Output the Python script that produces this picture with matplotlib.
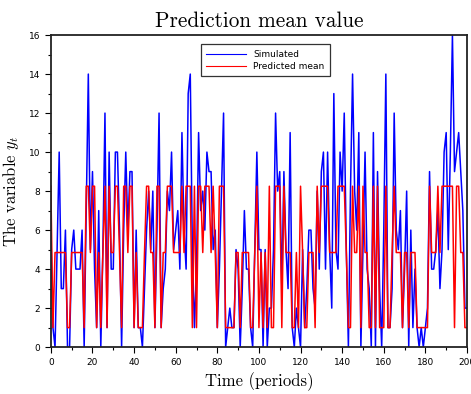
import matplotlib
matplotlib.use("Agg")
import matplotlib.pyplot as plt
from matplotlib.ticker import MultipleLocator

periods = list(range(0, 201))

simulated = [
    6, 1, 0, 5, 10, 3, 3, 6, 0, 0,
    5, 6, 4, 4, 4, 6, 0, 7, 14, 5,
    9, 4, 1, 7, 0, 5, 12, 1, 10, 4,
    4, 10, 10, 6, 0, 6, 10, 6, 9, 9,
    1, 6, 1, 1, 0, 3, 6, 8, 5, 8,
    1, 6, 12, 1, 3, 4, 8, 7, 10, 5,
    6, 7, 4, 11, 6, 4, 13, 14, 5, 1,
    4, 11, 7, 8, 6, 10, 9, 9, 5, 6,
    1, 4, 8, 12, 0, 1, 2, 1, 1, 5,
    4, 0, 3, 7, 4, 4, 1, 0, 5, 10,
    5, 5, 0, 5, 0, 2, 2, 5, 12, 8,
    9, 3, 9, 5, 3, 11, 1, 0, 2, 1,
    0, 5, 1, 3, 6, 6, 3, 2, 8, 4,
    9, 10, 4, 10, 5, 2, 13, 5, 4, 10,
    8, 12, 5, 0, 8, 14, 8, 6, 11, 0,
    5, 10, 4, 3, 0, 11, 0, 9, 3, 0,
    6, 14, 1, 1, 3, 12, 6, 5, 7, 1,
    4, 8, 0, 6, 1, 4, 1, 0, 1, 0,
    1, 2, 9, 4, 4, 5, 7, 3, 5, 10,
    11, 5, 10, 16, 9, 10, 11, 9, 7, 2,
    2,
]

L, M, H = 1.0, 4.85, 8.25
predicted = [
    H, L, M, M, M, M, M, M, L, L,
    M, M, M, M, M, M, L, H, H, M,
    H, H, L, M, L, M, H, L, H, M,
    M, H, H, M, L, H, H, M, H, H,
    L, M, L, L, L, M, H, H, M, M,
    L, H, H, L, M, M, H, H, H, M,
    M, M, M, H, M, H, H, H, L, H,
    L, H, H, M, H, H, H, M, H, M,
    L, H, H, H, L, L, L, L, L, M,
    M, L, M, M, M, M, L, L, M, H,
    L, M, L, M, L, H, L, L, H, H,
    H, L, H, M, M, M, L, L, M, L,
    H, M, L, L, M, M, M, L, H, M,
    H, H, H, H, M, M, M, M, H, H,
    H, H, M, L, L, H, M, M, H, L,
    H, M, M, L, L, H, L, H, L, L,
    L, H, L, L, M, H, M, M, M, L,
    M, M, L, M, M, M, L, L, L, L,
    L, L, H, M, M, M, H, M, H, H,
    H, H, H, H, L, H, H, M, M, L,
    L,
]

plt.rcParams['mathtext.fontset'] = 'cm'
plt.rcParams['axes.formatter.use_mathtext'] = False

fig = plt.figure(figsize=(4.71, 3.94), dpi=100)
ax = fig.add_axes([0.108, 0.119, 0.8835, 0.792])

ax.plot(periods, simulated, color='#0000ff', lw=1.1, label='Simulated')
ax.plot(periods, predicted, color='#ff0000', lw=1.1, label='Predicted mean')

ax.set_xlim(0, 200)
ax.set_ylim(0, 16)
ax.xaxis.set_major_locator(MultipleLocator(20))
ax.xaxis.set_minor_locator(MultipleLocator(10))
ax.yaxis.set_major_locator(MultipleLocator(2))
ax.yaxis.set_minor_locator(MultipleLocator(1))
ax.tick_params(which='both', direction='out', top=False, right=False,
               labelsize=6.5, colors='black')
ax.tick_params(which='major', length=4, width=0.8)
ax.tick_params(which='minor', length=2.5, width=0.8)
for s in ax.spines.values():
    s.set_linewidth(1.3)
    s.set_color('#222222')

ax.set_title('Prediction mean value', fontfamily='cmr10', fontsize=15.3, pad=6)
ax.set_xlabel('Time (periods)', fontfamily='cmr10', fontsize=12, labelpad=4)
ax.set_ylabel('The variable $y_t$', fontfamily='cmr10', fontsize=12, labelpad=6)

leg = ax.legend(loc='upper center', bbox_to_anchor=(0.515, 0.985), fontsize=6.5,
                frameon=True, fancybox=False, handlelength=4.4, borderpad=0.6,
                labelspacing=0.35)
leg.get_frame().set_edgecolor('black')
leg.get_frame().set_linewidth(0.9)
for line in leg.get_lines():
    line.set_linewidth(0.8)

fig.savefig('out.png', dpi=100)
